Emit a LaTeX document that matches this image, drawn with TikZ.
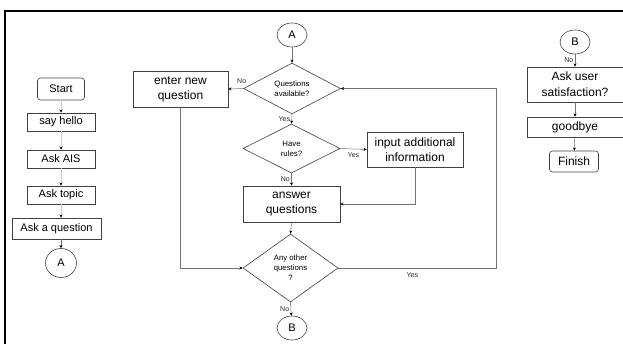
\documentclass[tikz,border=0pt]{standalone}
\usepackage{fontspec}
\setmainfont{Liberation Sans}
\usetikzlibrary{shapes.geometric, arrows.meta, positioning}

\begin{document}
\begin{tikzpicture}[
         x=1pt, y=-1pt,
         flow/.style={draw=black!55, line width=0.5pt, -{Stealth[length=3.2pt, width=3pt, black]}},
         faint/.style={flow, draw=black!20},
         process/.style={rectangle, draw=black!75, line width=0.6pt, align=center, inner sep=0pt, font=\fontsize{11}{13}\selectfont},
         bigbox/.style={process, font=\fontsize{12}{15}\selectfont},
         terminal/.style={process, rounded corners=3pt},
         decision/.style={diamond, draw=black!75, line width=0.6pt, align=center, inner sep=0pt, font=\fontsize{7.8}{10}\selectfont},
         connector/.style={ellipse, draw=black!75, line width=0.6pt, inner sep=0pt, minimum width=30pt, minimum height=24pt, font=\fontsize{11}{13}\selectfont},
         edgetext/.style={font=\fontsize{7}{8}\selectfont, text=black!85, inner sep=1.5pt}
      ]
         \useasboundingbox (0,0) rectangle (623,344);
         % Frame
         \draw[line width=2pt] (5,344) -- (5,11) -- (623,11);

         % Nodes for the start column
         \node[terminal, minimum width=47pt, minimum height=22pt] (start) at (61,89) {Start};
         \node[process, minimum width=68pt, minimum height=18pt] (hello) at (61,122) {say hello};
         \node[process, minimum width=68pt, minimum height=18pt] (ais) at (61,159) {Ask AIS};
         \node[process, minimum width=68pt, minimum height=18pt] (topic) at (61,195) {Ask topic};
         \node[process, minimum width=89pt, minimum height=21pt] (askq) at (56.5,228.5) {Ask a question};
         \node[connector, minimum width=31pt, minimum height=29pt] (leftA) at (61,263) {A};

         \draw[faint] (start) -- (hello);
         \draw[faint] (hello) -- (ais);
         \draw[faint] (ais) -- (topic);
         \draw[faint] (topic) -- (askq.north -| topic);
         \draw[flow] (askq.south -| leftA) -- (leftA);

         % Nodes for the question loop
         \node[connector] (topA) at (292,35) {A};
         \node[decision, minimum width=97pt, minimum height=49pt] (avail) at (292,88.5) {Questions\\available?};
         \node[bigbox, minimum width=95pt, minimum height=36pt] (newq) at (180.5,89) {enter new\\question};
         \node[decision, minimum width=97pt, minimum height=49pt] (rules) at (291.5,148.5) {Have\\rules?};
         \node[bigbox, minimum width=96pt, minimum height=35pt] (info) at (415,149.5) {input additional\\information};
         \node[bigbox, minimum width=97pt, minimum height=36pt] (answer) at (291.5,204) {answer\\questions};
         \node[decision, minimum width=95pt, minimum height=68pt] (other) at (290.5,268) {Any other\\questions\\?};
         \node[connector] (bottomB) at (292,328) {B};
         \coordinate (back) at (496,268);

         % Arrows with labels
         \draw[flow] (topA) -- (avail);
         \draw[flow] (avail.west) -- node[edgetext, above=3pt, pos=0.1] {No} (newq.east);
         \draw[flow] (avail.south) -- node[edgetext, left] {Yes} (rules.north);
         \draw[flow] (rules.east) -- node[edgetext, below=2pt] {Yes} (info.west);
         \draw[flow] (rules.south) -- node[edgetext, left] {No} (answer.north);
         \draw[flow] (info.south) |- (answer.east);
         \draw[flow] (answer.south) -- (other.north);
         \draw[flow] (newq.south) |- (other.west);
         \draw[flow] (other.east) -- node[edgetext, below=3pt, pos=0.47] {Yes} (back) |- (avail.east);
         \draw[flow] (other.south) -- node[edgetext, left] {No} (bottomB);

         % Nodes for the end column
         \node[connector] (rightB) at (575,42) {B};
         \node[process, font=\fontsize{12}{16}\selectfont, minimum width=96pt, minimum height=35pt] (satis) at (575,84.5) {Ask user\\satisfaction?};
         \node[process, font=\fontsize{12}{15}\selectfont, minimum width=96pt, minimum height=20pt] (bye) at (575,127) {goodbye};
         \node[terminal, font=\fontsize{12}{15}\selectfont, minimum width=49pt, minimum height=21pt] (finish) at (574,161.5) {Finish};

         \draw[flow] (rightB) -- node[edgetext, left] {No} (satis);
         \draw[flow] (satis) -- (bye);
         \draw[flow] (bye) -- (finish);
      \end{tikzpicture}
\end{document}
